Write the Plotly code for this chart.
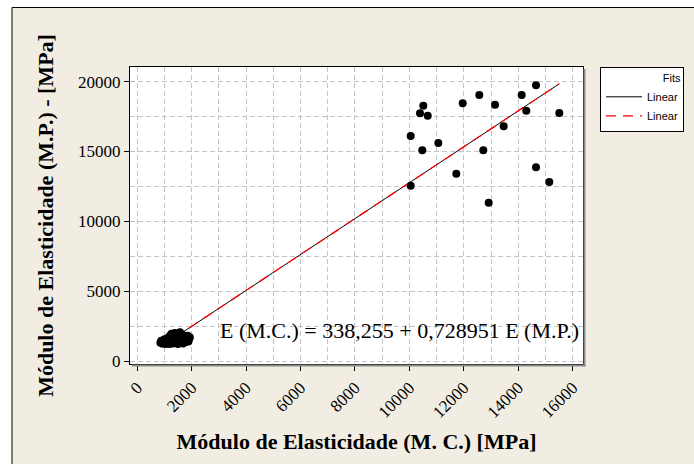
import numpy as np
import plotly.graph_objects as go

# Low-modulus cluster (M.C. on x, M.P. on y) in MPa
cluster_mc = [850, 880, 920, 960, 1000, 1020, 1060, 1100, 1120, 1150, 1180, 1200, 1230,
              1260, 1280, 1300, 1330, 1350, 1380, 1400, 1430, 1460, 1490, 1510, 1540,
              1570, 1600, 1620, 1650, 1680, 1700, 1730, 1760, 1790, 1820, 1850, 1880,
              1910, 1930]
cluster_mp = [1300, 1450, 1250, 1380, 1550, 1220, 1420, 1300, 1650, 1500, 1220, 1800, 1400,
              1950, 1600, 1250, 1750, 1450, 2000, 1300, 1900, 1600, 1220, 1800, 1450,
              2050, 1350, 1700, 1900, 1250, 1550, 1800, 1350, 1650, 1500, 1800, 1400,
              1600, 1700]

# High-modulus group
high_mc = [10511, 10390, 10673, 10048, 10474, 11062, 10048, 11959, 12569, 13146,
           11724, 12716, 12914, 13465, 14127, 14296, 14653, 14653, 15141, 15509]
high_mp = [18275, 17731, 17559, 16106, 15082, 15605, 12548, 18447, 19041, 18346,
           13407, 15082, 11331, 16800, 19041, 17917, 19735, 13866, 12813, 17752]

equation_text = "E (M.C.) = 338,255 + 0,728951 E (M.P.)"
x_title = "Módulo de Elasticidade (M. C.) [MPa]"
y_title = "Módulo de Elasticidade (M.P.) - [MPa]"
legend_title = "Fits"
fit_names = ["Linear", "Linear"]

x_all = np.array(cluster_mc + high_mc, dtype=float)
y_all = np.array(cluster_mp + high_mp, dtype=float)
slope, intercept = np.polyfit(x_all, y_all, 1)
fit_x = np.array([x_all.min(), x_all.max()])
fit_y = intercept + slope * fit_x

W, H = 694, 464
L, R, T, B = 130, 583, 67, 364
pw, ph = R - L, B - T

def px_x(p):
    return (p - L) / pw

def px_y(p):
    return (B - p) / ph

fig = go.Figure()
fig.add_trace(go.Scatter(x=fit_x, y=fit_y, mode="lines", name=fit_names[0],
                         line=dict(color="black", width=1)))
fig.add_trace(go.Scatter(x=fit_x, y=fit_y, mode="lines", name=fit_names[1],
                         line=dict(color="#FF0000", width=1.3, dash="10px,7px")))
fig.add_trace(go.Scatter(x=x_all, y=y_all, mode="markers",
                         marker=dict(color="black", size=8), showlegend=False,
                         hoverinfo="skip"))

grid = "#C4C4C4"
serif = "Liberation Serif"
fig.update_xaxes(range=[-268, 16380], dtick=2000, tick0=0, tickformat="d",
                 tickangle=-45, ticks="outside", ticklen=6, tickcolor="black",
                 showline=True, linecolor="black", linewidth=1, mirror=True,
                 showgrid=True, gridcolor=grid, griddash="5px,3px", gridwidth=1,
                 zeroline=False,
                 minor=dict(dtick=1000, tick0=0, showgrid=True, gridcolor=grid,
                            griddash="5px,3px", gridwidth=1, ticks=""),
                 tickfont=dict(family=serif, size=17, color="black"),
                 title=dict(text="<b>" + x_title + "</b>", standoff=12,
                            font=dict(family=serif, size=22, color="black")))
fig.update_yaxes(range=[-215, 21045], dtick=5000, tick0=0, tickformat="d",
                 ticks="outside", ticklen=5, tickcolor="black",
                 showline=True, linecolor="black", linewidth=1, mirror=True,
                 showgrid=True, gridcolor=grid, griddash="5px,3px", gridwidth=1,
                 zeroline=False,
                 minor=dict(dtick=2500, tick0=0, showgrid=True, gridcolor=grid,
                            griddash="5px,3px", gridwidth=1, ticks=""),
                 tickfont=dict(family=serif, size=17, color="black"),
                 title=dict(text="<b>" + y_title + "</b>", standoff=18,
                            font=dict(family=serif, size=22, color="black")))

shapes = [
    # white strips outside the outer frame
    dict(type="rect", xref="paper", yref="paper", x0=px_x(0), x1=px_x(W),
         y0=px_y(0), y1=px_y(7.5), fillcolor="white", line=dict(width=0), layer="below"),
    dict(type="rect", xref="paper", yref="paper", x0=px_x(0), x1=px_x(12),
         y0=px_y(0), y1=px_y(H), fillcolor="white", line=dict(width=0), layer="below"),
    # outer frame lines
    dict(type="line", xref="paper", yref="paper", x0=px_x(12), x1=px_x(W + 5),
         y0=px_y(7.5), y1=px_y(7.5), line=dict(color="black", width=1)),
    dict(type="line", xref="paper", yref="paper", x0=px_x(12), x1=px_x(12),
         y0=px_y(7.5), y1=px_y(H + 5), line=dict(color="black", width=1)),
    # plot frame shadow
    dict(type="line", xref="paper", yref="paper", x0=px_x(R + 1.5), x1=px_x(R + 1.5),
         y0=px_y(T + 2), y1=px_y(B + 2.5), line=dict(color="#8A8A8A", width=2)),
    dict(type="line", xref="paper", yref="paper", x0=px_x(L + 2), x1=px_x(R + 2.5),
         y0=px_y(B + 1.5), y1=px_y(B + 1.5), line=dict(color="#8A8A8A", width=2)),
]

fig.update_layout(
    width=W, height=H,
    margin=dict(l=L, r=W - R, t=T, b=H - B, pad=0, autoexpand=False),
    paper_bgcolor="#F1EDE3", plot_bgcolor="white",
    shapes=shapes,
    annotations=[dict(text=equation_text, xref="paper", yref="paper",
                      x=px_x(581), y=px_y(330), xanchor="right", yanchor="middle",
                      showarrow=False, font=dict(family=serif, size=22, color="black"))],
    legend=dict(x=px_x(600), xanchor="left", y=1, yanchor="top",
                bgcolor="white", bordercolor="black", borderwidth=1,
                font=dict(family="Liberation Sans", size=11, color="black"),
                title=dict(text=legend_title, side="top right",
                           font=dict(family="Liberation Sans", size=11, color="black")),
                tracegroupgap=0, itemwidth=36),
    showlegend=True,
)

fig.write_html("out.html", config={"displayModeBar": False},
               post_script="document.body.style.margin='0';document.body.style.overflow='hidden';")
